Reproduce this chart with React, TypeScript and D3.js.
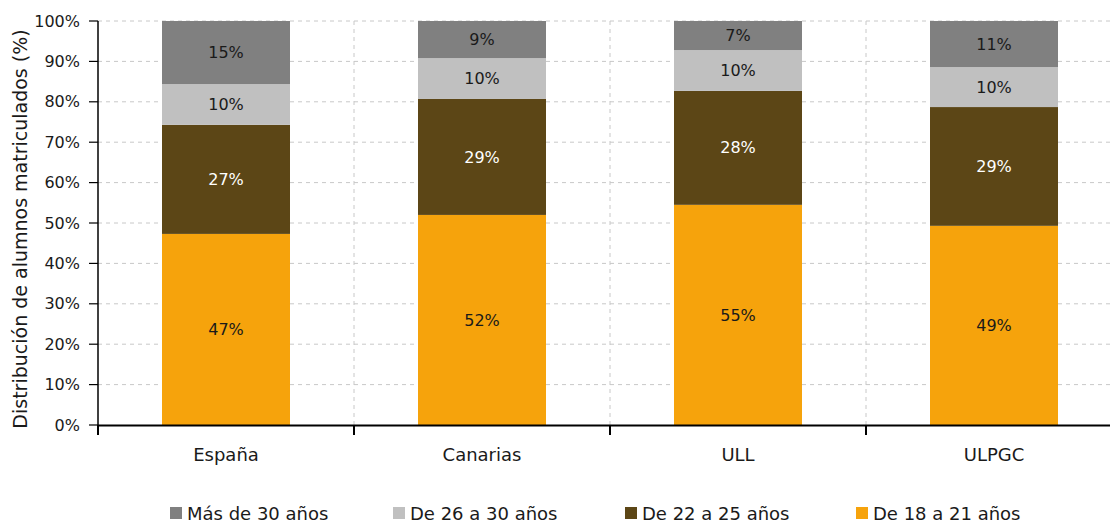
import React from "react";
import * as d3 from "d3";

const categories = ["España", "Canarias", "ULL", "ULPGC"];
const series = ["De 18 a 21 años", "De 22 a 25 años", "De 26 a 30 años", "Más de 30 años"];
const v18a21 = [47.3, 52.0, 54.5, 49.3];
const v22a25 = [27.0, 28.7, 28.2, 29.4];
const v26a30 = [10.1, 10.1, 10.1, 9.9];
const vMas30 = [15.6, 9.2, 7.2, 11.4];
const labels18 = ["47%", "52%", "55%", "49%"];
const labels22 = ["27%", "29%", "28%", "29%"];
const labels26 = ["10%", "10%", "10%", "10%"];
const labelsMas = ["15%", "9%", "7%", "11%"];
const yTicks = [0, 10, 20, 30, 40, 50, 60, 70, 80, 90, 100];
const colors = ["#F6A30C", "#5C4616", "#C0C0C0", "#808080"];
const textColors = ["#1a1a1a", "#ffffff", "#1a1a1a", "#1a1a1a"];
const legendOrder = [3, 2, 1, 0];

const W = 1110, H = 523;
const FONT = "'DejaVu Sans', Verdana, sans-serif";

export default function App() {
  const x = d3.scaleBand<string>().domain(categories).range([98, 1122]).paddingInner(0).paddingOuter(0);
  const y = d3.scaleLinear().domain([0, 100]).range([425, 21]);
  const labs = [labels18, labels22, labels26, labelsMas];
  const stackData = categories.map((c, i) => ({ c, s0: v18a21[i], s1: v22a25[i], s2: v26a30[i], s3: vMas30[i] }));
  const stack = d3.stack<any>().keys(["s0", "s1", "s2", "s3"]);
  const stacked = stack(stackData);
  const bw = x.bandwidth() / 2;
  const legendX = [170, 393, 625, 856];

  return (
    <svg width={W} height={H} style={{ position: "absolute", left: 0, top: 0, fontFamily: FONT }}>
      <rect width={W} height={H} fill="#fff" />
      {yTicks.filter(t => t > 0).map(t => (
        <line key={"g" + t} x1={98} x2={W} y1={y(t)} y2={y(t)} stroke="#c8c8c8" strokeDasharray="4,4" strokeWidth={1} />
      ))}
      {categories.slice(1).map(c => (
        <line key={"vg" + c} x1={x(c)!} x2={x(c)!} y1={21} y2={425} stroke="#c8c8c8" strokeDasharray="4,4" strokeWidth={1} />
      ))}
      {stacked.map((layer, si) => (
        <g key={si}>
          {layer.map((d, i) => {
            const cx = x(categories[i])! + x.bandwidth() / 2;
            const y0 = y(d[0]), y1 = y(d[1]);
            return (
              <g key={i}>
                <rect x={cx - bw / 2} y={y1} width={bw} height={y0 - y1} fill={colors[si]} />
                <text x={cx} y={(y0 + y1) / 2} dy="0.35em" textAnchor="middle" fontSize={16} fill={textColors[si]}>
                  {labs[si][i]}
                </text>
              </g>
            );
          })}
        </g>
      ))}
      <line x1={98} x2={98} y1={21} y2={426} stroke="#000" strokeWidth={1.5} />
      {yTicks.map(t => (
        <g key={"t" + t}>
          <line x1={89} x2={98} y1={y(t)} y2={y(t)} stroke="#000" strokeWidth={1.2} />
          <text x={80} y={y(t)} dy="0.35em" textAnchor="end" fontSize={16} fill="#1a1a1a">{t}%</text>
        </g>
      ))}
      <line x1={98} x2={W} y1={425.5} y2={425.5} stroke="#000" strokeWidth={2} />
      {categories.map(c => (
        <line key={"xt" + c} x1={x(c)!} x2={x(c)!} y1={425} y2={435} stroke="#000" strokeWidth={2} />
      ))}
      {categories.map(c => (
        <text key={"xl" + c} x={x(c)! + x.bandwidth() / 2} y={455} dy="0.35em" textAnchor="middle" fontSize={18} fill="#1a1a1a">{c}</text>
      ))}
      <text transform={`translate(27,229) rotate(-90)`} textAnchor="middle" fontSize={19} fill="#1a1a1a">
        Distribución de alumnos matriculados (%)
      </text>
      {legendOrder.map((si, k) => (
        <g key={"lg" + si}>
          <rect x={legendX[k]} y={507} width={12} height={12} fill={colors[si]} />
          <text x={legendX[k] + 17} y={514} dy="0.35em" fontSize={18} fill="#1a1a1a">{series[si]}</text>
        </g>
      ))}
    </svg>
  );
}
